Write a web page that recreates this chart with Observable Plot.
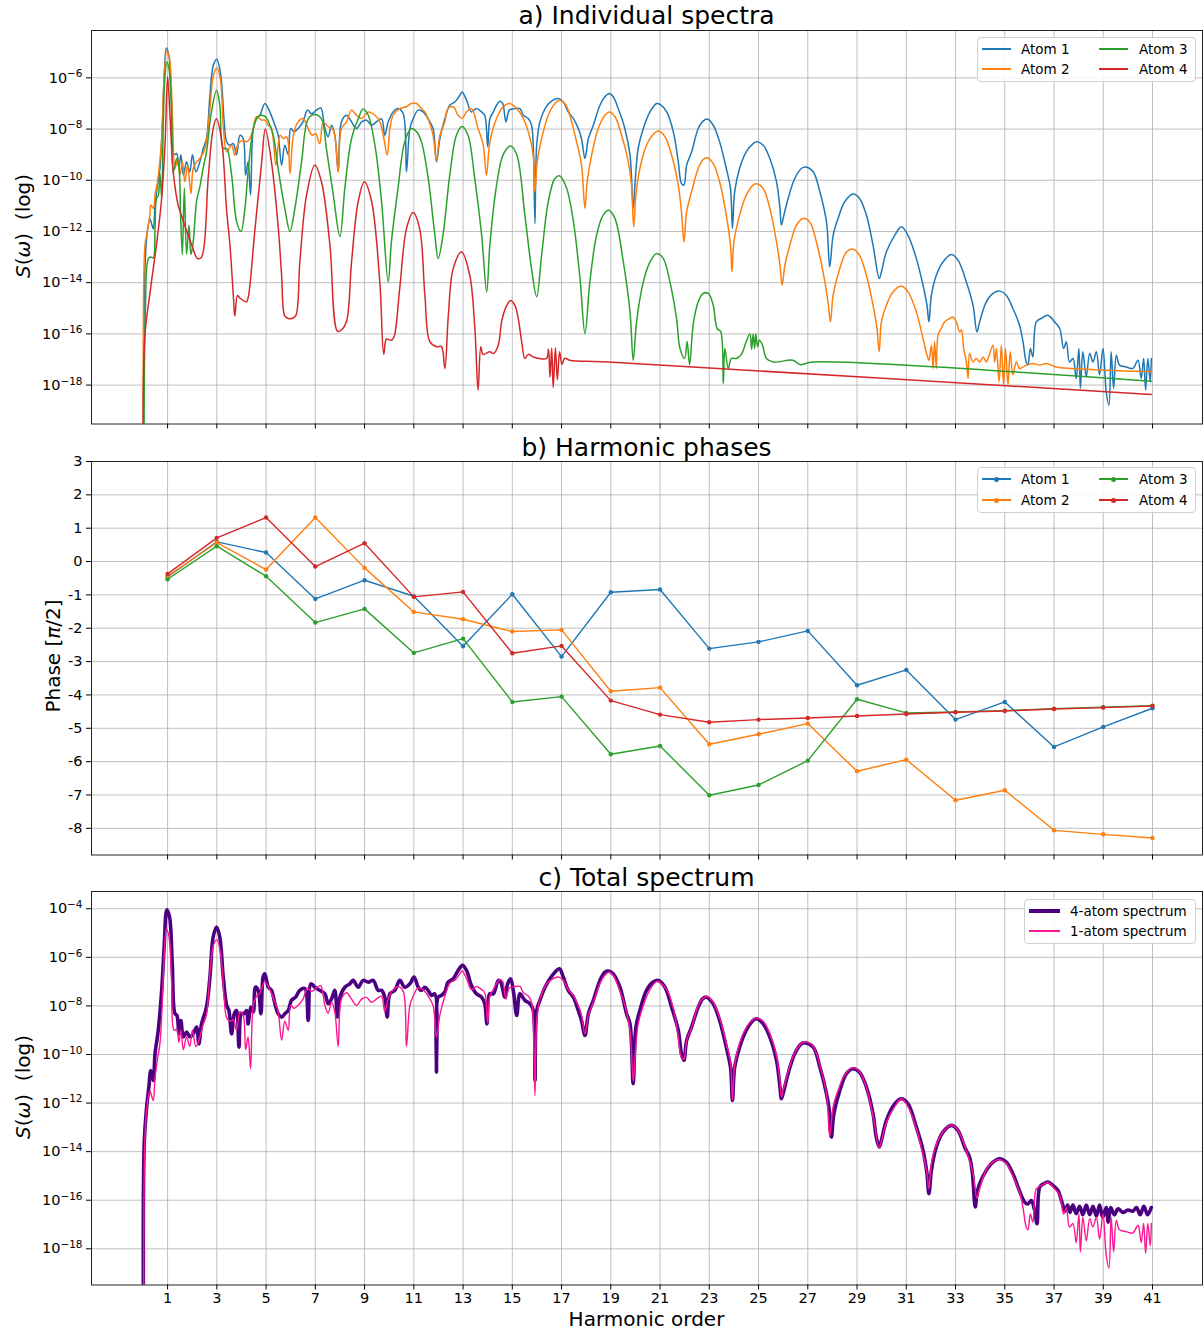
<!DOCTYPE html>
<html>
<head>
<meta charset="utf-8">
<script src="https://cdn.jsdelivr.net/npm/d3@7"></script>
<script src="https://cdn.jsdelivr.net/npm/@observablehq/plot@0.6"></script>
<style>
  body { margin: 0; background: #fff; }
  #root { position: relative; width: 1203px; height: 1331px; overflow: hidden; background: #fff; font-family: "DejaVu Sans", sans-serif; color: #000; }
  .title { position: absolute; left: 91px; width: 1111px; text-align: center; font-size: 25px; line-height: 29px; white-space: nowrap; }
  .ylab { position: absolute; font-size: 20px; white-space: nowrap; transform: translate(-50%, -50%) rotate(-90deg); }
  .xlab { position: absolute; left: 91px; width: 1111px; text-align: center; font-size: 20px; line-height: 24px; }
  .legend { position: absolute; border: 1px solid #d0d0d0; border-radius: 4px; background: rgba(255,255,255,0.85); box-sizing: border-box; }
  .legend .lt { position: absolute; font-size: 13.5px; line-height: 20px; height: 20px; white-space: nowrap; }
  .legend .sw { position: absolute; }
  .legend .dot { position: absolute; border-radius: 50%; }
</style>
</head>
<body>
<div id="root"></div>
<script>
// ---------------- DATA ----------------
// Spectra: pairs [harmonic order, log10 S(omega)]
const atom1Spectrum = [[0.04,-25],[0.08,-13.45],[0.19,-11.9],[0.28,-11.5],[0.35,-11.7],[0.42,-11.9],[0.49,-10.97],[0.59,-10.19],[0.69,-9.54],[0.78,-7.98],[0.86,-6.0],[0.95,-4.83],[1.05,-5.11],[1.16,-6.94],[1.26,-9.0],[1.37,-8.96],[1.46,-9.5],[1.54,-9.0],[1.64,-9.8],[1.77,-9.28],[1.9,-9.67],[2.01,-9.0],[2.15,-9.67],[2.31,-9.28],[2.45,-8.76],[2.58,-8.37],[2.72,-6.68],[2.86,-5.5],[3.0,-5.27],[3.16,-5.9],[3.3,-7.72],[3.4,-8.5],[3.53,-8.63],[3.67,-8.57],[3.8,-9.0],[3.94,-8.24],[4.07,-8.37],[4.17,-9.8],[4.27,-9.28],[4.37,-10.58],[4.48,-7.98],[4.61,-7.6],[4.75,-7.46],[4.95,-7.0],[5.15,-7.33],[5.36,-7.85],[5.49,-8.24],[5.63,-9.41],[5.76,-8.63],[5.9,-9.0],[6.0,-7.98],[6.14,-8.1],[6.3,-7.98],[6.5,-7.72],[6.68,-7.26],[6.85,-7.4],[7.05,-7.26],[7.22,-7.17],[7.39,-7.98],[7.52,-8.3],[7.66,-7.85],[7.79,-8.24],[7.93,-9.67],[8.06,-7.72],[8.27,-7.46],[8.47,-7.72],[8.67,-7.98],[8.88,-7.72],[9.08,-7.65],[9.28,-7.85],[9.48,-7.72],[9.69,-7.6],[9.82,-8.24],[9.96,-7.72],[10.16,-7.33],[10.36,-7.2],[10.57,-7.4],[10.7,-9.67],[10.84,-7.98],[10.97,-7.6],[11.18,-7.26],[11.38,-7.33],[11.58,-7.6],[11.78,-7.98],[11.92,-9.28],[12.06,-8.37],[12.26,-7.6],[12.46,-7.07],[12.67,-6.94],[12.87,-6.68],[12.96,-6.55],[13.14,-6.87],[13.34,-7.33],[13.54,-7.2],[13.75,-7.33],[13.88,-7.46],[14.0,-8.7],[14.09,-7.59],[14.23,-7.33],[14.36,-7.07],[14.5,-6.91],[14.61,-7.0],[14.74,-7.72],[14.88,-7.26],[15.11,-7.2],[15.31,-7.2],[15.45,-7.46],[15.65,-7.59],[15.78,-7.85],[15.85,-8.63],[15.92,-11.69],[15.99,-8.63],[16.12,-7.72],[16.33,-7.2],[16.53,-6.96],[16.86,-6.81],[17.07,-6.94],[17.27,-7.33],[17.48,-7.59],[17.68,-7.98],[17.81,-8.37],[17.95,-9.15],[18.09,-8.37],[18.29,-7.85],[18.56,-7.07],[18.76,-6.74],[18.94,-6.61],[19.1,-6.74],[19.3,-7.2],[19.57,-7.98],[19.78,-9.02],[19.91,-11.1],[19.98,-10.19],[20.11,-8.76],[20.32,-7.98],[20.59,-7.33],[20.86,-7.0],[21.0,-7.04],[21.27,-7.33],[21.54,-8.11],[21.74,-9.28],[21.87,-10.13],[21.97,-10.19],[22.08,-9.41],[22.28,-8.9],[22.55,-7.98],[22.75,-7.69],[22.91,-7.61],[23.16,-7.85],[23.42,-8.5],[23.69,-9.54],[23.86,-10.32],[23.94,-11.88],[24.03,-10.45],[24.23,-9.54],[24.5,-8.89],[24.78,-8.57],[24.92,-8.5],[25.19,-8.63],[25.46,-9.15],[25.73,-10.06],[25.87,-11.1],[25.93,-11.75],[26.03,-11.36],[26.2,-10.71],[26.47,-9.93],[26.74,-9.54],[26.92,-9.48],[27.22,-9.67],[27.49,-10.45],[27.76,-11.63],[27.89,-13.38],[28.03,-12.15],[28.23,-11.49],[28.5,-10.84],[28.84,-10.54],[29.1,-10.71],[29.38,-11.36],[29.65,-12.54],[29.9,-13.84],[29.99,-13.58],[30.19,-12.8],[30.53,-12.15],[30.8,-11.82],[31.07,-12.15],[31.41,-13.06],[31.68,-14.1],[31.84,-14.88],[31.92,-15.53],[32.02,-14.49],[32.22,-13.71],[32.49,-13.19],[32.83,-12.9],[33.1,-13.12],[33.44,-13.97],[33.71,-14.88],[33.87,-15.92],[33.98,-15.53],[34.25,-14.75],[34.52,-14.42],[34.79,-14.33],[35.06,-14.49],[35.33,-15.01],[35.6,-15.66],[35.74,-16.31],[35.87,-17.1],[35.94,-17.22],[36.04,-16.57],[36.14,-16.9],[36.28,-15.53],[36.48,-15.4],[36.75,-15.27],[37.02,-15.53],[37.23,-15.79],[37.39,-16.57],[37.5,-16.31],[37.63,-17.1],[37.77,-16.96],[37.9,-17.74],[38.01,-16.57],[38.07,-18.13],[38.17,-16.7],[38.31,-17.67],[38.45,-16.76],[38.58,-17.1],[38.72,-16.7],[38.85,-17.6],[38.99,-16.57],[39.12,-18.27],[39.23,-18.79],[39.32,-16.7],[39.42,-18.13],[39.53,-16.83],[39.66,-17.22],[39.93,-17.29],[40.2,-17.35],[40.41,-17.03],[40.54,-17.74],[40.64,-16.96],[40.72,-18.2],[40.81,-16.96],[40.91,-17.88],[40.95,-16.96]];

const atom2Spectrum = [[0.04,-25],[0.08,-12.54],[0.15,-12.15],[0.28,-11.36],[0.32,-10.97],[0.42,-11.1],[0.49,-10.58],[0.59,-10.06],[0.76,-8.37],[0.86,-6.0],[0.97,-4.96],[1.08,-5.25],[1.19,-7.33],[1.3,-9.54],[1.41,-9.15],[1.5,-9.8],[1.6,-9.28],[1.7,-10.06],[1.81,-9.41],[1.95,-10.52],[2.04,-9.54],[2.18,-9.28],[2.31,-9.15],[2.52,-8.76],[2.72,-7.2],[2.86,-5.9],[3.0,-5.61],[3.14,-6.03],[3.27,-7.98],[3.4,-8.89],[3.6,-8.63],[3.73,-9.02],[3.87,-8.57],[4.07,-8.44],[4.2,-8.5],[4.34,-8.37],[4.48,-7.98],[4.61,-7.52],[4.82,-7.65],[4.95,-7.65],[5.09,-7.85],[5.22,-7.98],[5.4,-9.41],[5.57,-8.24],[5.7,-8.37],[5.84,-8.3],[5.97,-9.74],[6.11,-8.24],[6.3,-7.72],[6.5,-7.59],[6.71,-7.98],[6.87,-8.24],[7.01,-8.18],[7.18,-8.57],[7.32,-7.72],[7.52,-7.91],[7.73,-8.04],[7.93,-9.67],[8.06,-7.98],[8.27,-7.72],[8.47,-7.26],[8.67,-7.46],[8.88,-7.59],[9.15,-7.33],[9.42,-7.46],[9.62,-7.72],[9.76,-8.24],[9.92,-9.02],[10.03,-7.98],[10.16,-7.46],[10.43,-7.2],[10.7,-7.13],[10.9,-7.0],[11.11,-7.0],[11.31,-7.2],[11.45,-7.33],[11.58,-7.59],[11.78,-8.24],[11.92,-9.22],[12.06,-8.24],[12.26,-7.72],[12.39,-7.2],[12.6,-7.13],[12.8,-7.46],[12.96,-7.59],[13.14,-7.33],[13.34,-7.2],[13.61,-7.98],[13.81,-8.57],[13.95,-9.8],[14.09,-8.5],[14.36,-7.59],[14.63,-7.13],[14.88,-7.0],[15.18,-7.2],[15.45,-7.59],[15.65,-8.11],[15.85,-9.02],[15.92,-10.45],[16.01,-9.28],[16.19,-8.37],[16.46,-7.46],[16.73,-7.0],[16.93,-6.87],[17.18,-7.07],[17.41,-7.72],[17.61,-8.5],[17.81,-9.41],[17.95,-11.1],[18.04,-10.06],[18.22,-9.02],[18.49,-7.98],[18.76,-7.46],[18.94,-7.33],[19.17,-7.52],[19.44,-8.24],[19.71,-9.28],[19.84,-10.19],[19.93,-11.82],[20.02,-10.58],[20.18,-9.54],[20.45,-8.63],[20.72,-8.21],[20.93,-8.08],[21.2,-8.3],[21.47,-9.02],[21.74,-10.19],[21.87,-11.23],[21.97,-12.41],[22.08,-11.23],[22.28,-10.45],[22.55,-9.54],[22.75,-9.19],[22.91,-9.12],[23.16,-9.35],[23.42,-10.06],[23.69,-11.36],[23.86,-12.54],[23.92,-13.58],[24.0,-12.41],[24.23,-11.36],[24.5,-10.58],[24.78,-10.19],[24.92,-10.14],[25.19,-10.32],[25.46,-11.1],[25.73,-12.41],[25.87,-13.32],[25.96,-14.1],[26.07,-13.32],[26.27,-12.54],[26.54,-11.75],[26.81,-11.49],[27.08,-11.63],[27.35,-12.41],[27.62,-13.58],[27.82,-14.75],[27.92,-15.53],[28.03,-14.49],[28.3,-13.45],[28.57,-12.8],[28.84,-12.69],[29.1,-12.93],[29.38,-13.71],[29.65,-14.88],[29.81,-15.79],[29.9,-16.7],[29.99,-15.53],[30.19,-14.88],[30.46,-14.36],[30.8,-14.13],[31.07,-14.36],[31.41,-15.14],[31.68,-16.18],[31.84,-16.83],[31.92,-17.03],[32.02,-16.44],[32.09,-17.35],[32.15,-16.31],[32.22,-17.35],[32.29,-16.05],[32.42,-15.79],[32.56,-15.53],[32.76,-15.4],[32.9,-15.34],[33.03,-15.53],[33.17,-15.92],[33.24,-15.85],[33.33,-16.57],[33.44,-17.1],[33.51,-17.74],[33.57,-16.77],[33.71,-17.1],[33.84,-16.96],[33.98,-17.1],[34.12,-16.9],[34.25,-17.1],[34.39,-16.77],[34.52,-16.44],[34.59,-17.1],[34.66,-16.57],[34.77,-17.87],[34.86,-16.44],[34.95,-18.0],[35.03,-16.57],[35.13,-18.0],[35.22,-16.7],[35.33,-17.6],[35.47,-17.1],[35.6,-17.35],[35.87,-17.22],[36.14,-17.16],[36.42,-17.22],[36.69,-17.16],[37.09,-17.29],[37.77,-17.35],[39.12,-17.42],[40.95,-17.48]];

const atom3Spectrum = [[0.04,-25],[0.1,-15],[0.22,-13.06],[0.32,-13.0],[0.42,-13.03],[0.49,-11.9],[0.55,-10.7],[0.62,-10.6],[0.69,-9.74],[0.76,-10.7],[0.82,-8.0],[0.89,-6.0],[0.97,-5.38],[1.05,-5.6],[1.16,-7.3],[1.23,-9.67],[1.37,-9.15],[1.46,-9.5],[1.53,-11.4],[1.6,-12.9],[1.68,-10.3],[1.77,-12.9],[1.87,-11.75],[1.95,-12.9],[2.04,-12.4],[2.18,-10.8],[2.31,-10.26],[2.45,-9.5],[2.58,-8.9],[2.78,-7.33],[2.99,-6.48],[3.12,-7.07],[3.26,-8.76],[3.4,-8.76],[3.6,-9.8],[3.8,-11.6],[3.98,-12.0],[4.14,-11.1],[4.27,-9.67],[4.48,-8.0],[4.68,-7.5],[4.95,-7.5],[5.09,-7.7],[5.29,-8.24],[5.49,-9.54],[5.76,-11.1],[5.97,-12.0],[6.17,-11.1],[6.44,-9.3],[6.71,-7.6],[6.98,-7.43],[7.25,-7.6],[7.45,-8.76],[7.73,-10.58],[8.0,-12.2],[8.2,-10.3],[8.47,-8.37],[8.74,-7.6],[8.94,-7.22],[9.15,-7.46],[9.42,-8.63],[9.69,-10.84],[9.96,-13.97],[10.09,-12.4],[10.36,-10.3],[10.63,-8.5],[10.9,-7.98],[11.11,-8.1],[11.31,-8.5],[11.58,-9.9],[11.85,-12.1],[11.99,-13.06],[12.19,-12.1],[12.46,-9.8],[12.73,-8.24],[12.96,-7.9],[13.2,-8.24],[13.47,-9.9],[13.75,-12.1],[13.96,-14.36],[14.09,-12.5],[14.36,-10.2],[14.63,-9.0],[14.93,-8.66],[15.18,-9.0],[15.51,-11.36],[15.78,-13.45],[15.99,-14.55],[16.19,-12.93],[16.46,-10.84],[16.73,-9.93],[16.93,-9.83],[17.21,-10.32],[17.48,-11.6],[17.75,-13.84],[17.95,-15.99],[18.15,-13.97],[18.42,-12.15],[18.69,-11.36],[18.92,-11.17],[19.17,-11.5],[19.51,-13.2],[19.78,-15.14],[19.91,-17.03],[20.05,-15.5],[20.32,-13.97],[20.59,-13.2],[20.86,-12.86],[21.13,-13.05],[21.4,-13.97],[21.67,-15.4],[21.81,-16.57],[22.0,-16.96],[22.1,-16.3],[22.2,-17.2],[22.35,-15.6],[22.55,-14.75],[22.75,-14.42],[22.96,-14.42],[23.16,-14.88],[23.32,-15.8],[23.46,-15.9],[23.57,-17.94],[23.63,-16.57],[23.77,-17.35],[23.9,-16.96],[24.1,-16.96],[24.3,-16.8],[24.5,-16.3],[24.65,-15.99],[24.72,-16.6],[24.78,-16.0],[24.84,-16.57],[24.89,-15.99],[24.96,-16.5],[25.03,-16.25],[25.16,-16.44],[25.32,-16.96],[25.6,-17.1],[26.4,-17.03],[26.68,-17.2],[27.2,-17.1],[40.95,-17.85]];

const atom4Spectrum = [[0.04,-25],[0.07,-16.2],[0.3,-14.3],[0.55,-12.5],[0.75,-10.8],[0.9,-8.5],[1.0,-5.96],[1.1,-7.5],[1.23,-9.67],[1.43,-10.97],[1.64,-11.6],[1.97,-12.5],[2.22,-13.06],[2.38,-13.0],[2.65,-9.9],[2.85,-7.98],[2.98,-7.6],[3.19,-8.4],[3.4,-11.2],[3.53,-12.5],[3.67,-14.5],[3.73,-15.3],[3.84,-14.5],[3.94,-14.6],[4.2,-14.75],[4.27,-14.6],[4.55,-11.9],[4.82,-9.3],[4.97,-8.0],[5.22,-9.3],[5.5,-11.9],[5.63,-13.7],[5.76,-15.3],[5.9,-15.4],[6.03,-15.4],[6.2,-15.3],[6.37,-13.2],[6.64,-10.6],[6.98,-9.4],[7.25,-10.06],[7.59,-12.5],[7.9,-15.9],[8.06,-15.85],[8.27,-15.5],[8.47,-13.2],[8.74,-10.84],[8.99,-10.06],[9.28,-10.8],[9.62,-14.0],[9.78,-16.8],[9.89,-16.2],[10.09,-16.25],[10.2,-16.1],[10.43,-14.2],[10.7,-11.9],[10.97,-11.26],[11.24,-11.9],[11.45,-14.5],[11.65,-16.3],[11.92,-16.5],[12.12,-16.5],[12.26,-17.35],[12.4,-15.3],[12.6,-13.45],[12.94,-12.8],[13.27,-13.7],[13.48,-15.8],[13.61,-18.2],[13.72,-16.5],[13.81,-16.8],[14.09,-16.7],[14.23,-16.77],[14.43,-16.44],[14.57,-15.5],[14.77,-14.9],[14.93,-14.7],[15.11,-14.9],[15.24,-15.4],[15.38,-16.3],[15.51,-16.96],[15.65,-16.8],[15.85,-16.9],[16.39,-16.96],[16.47,-16.6],[16.53,-17.7],[16.6,-16.55],[16.66,-18.1],[16.75,-16.55],[16.83,-17.8],[16.92,-16.7],[17.02,-17.2],[17.13,-16.95],[17.33,-17.03],[18.9,-17.1],[40.95,-18.37]];

const fourAtomSpectrum = [[0.04,-25],[0.05,-13.68],[0.15,-12.17],[0.24,-11.34],[0.32,-10.66],[0.42,-11.07],[0.49,-9.97],[0.62,-9.01],[0.76,-7.36],[0.86,-5.58],[0.97,-4.04],[1.08,-4.34],[1.19,-6.26],[1.3,-8.32],[1.38,-8.39],[1.46,-9.15],[1.54,-8.6],[1.64,-9.28],[1.77,-9.08],[1.91,-9.28],[2.04,-9.15],[2.18,-8.87],[2.27,-9.56],[2.38,-8.74],[2.58,-8.05],[2.72,-6.81],[2.85,-5.17],[2.99,-4.75],[3.12,-5.17],[3.26,-6.81],[3.4,-7.98],[3.49,-8.19],[3.6,-9.15],[3.71,-8.32],[3.8,-8.19],[3.9,-9.7],[4.0,-8.32],[4.11,-8.32],[4.21,-8.19],[4.27,-8.74],[4.38,-8.05],[4.48,-8.25],[4.57,-7.23],[4.68,-7.36],[4.79,-8.32],[4.88,-6.81],[4.95,-6.68],[5.09,-7.23],[5.22,-7.36],[5.36,-7.91],[5.49,-8.32],[5.63,-8.46],[5.76,-8.32],[5.9,-8.19],[6.03,-7.77],[6.2,-7.64],[6.37,-7.36],[6.58,-7.29],[6.71,-8.6],[6.82,-7.09],[6.98,-7.23],[7.18,-7.36],[7.39,-7.5],[7.52,-7.91],[7.66,-7.71],[7.79,-7.36],[7.9,-8.46],[8.0,-7.64],[8.2,-7.23],[8.4,-7.09],[8.54,-6.95],[8.74,-7.23],[8.94,-6.95],[9.15,-7.02],[9.35,-6.95],[9.55,-7.36],[9.69,-7.36],[9.82,-7.64],[9.92,-8.46],[10.03,-7.5],[10.23,-7.36],[10.43,-6.95],[10.63,-7.23],[10.84,-7.09],[11.01,-6.81],[11.18,-7.23],[11.31,-7.36],[11.45,-7.23],[11.58,-7.36],[11.72,-7.57],[11.85,-7.5],[11.92,-10.73],[11.99,-7.64],[12.12,-7.57],[12.26,-7.43],[12.39,-7.02],[12.6,-6.88],[12.8,-6.54],[12.98,-6.33],[13.14,-6.54],[13.34,-7.16],[13.54,-7.5],[13.75,-7.64],[13.88,-7.91],[13.97,-8.74],[14.08,-7.5],[14.23,-7.5],[14.43,-6.95],[14.53,-7.02],[14.7,-7.64],[14.81,-7.09],[14.93,-6.88],[15.04,-7.36],[15.18,-8.39],[15.31,-7.5],[15.51,-7.77],[15.72,-7.91],[15.85,-8.19],[15.92,-11.07],[15.99,-8.19],[16.12,-7.77],[16.33,-7.23],[16.53,-6.88],[16.73,-6.61],[16.91,-6.47],[17.07,-6.81],[17.27,-7.36],[17.48,-7.64],[17.68,-8.19],[17.81,-8.6],[17.95,-9.22],[18.09,-8.32],[18.29,-7.77],[18.56,-6.95],[18.76,-6.61],[18.94,-6.57],[19.1,-6.68],[19.37,-7.23],[19.64,-8.32],[19.78,-8.74],[19.91,-11.2],[20.02,-8.87],[20.18,-8.19],[20.45,-7.36],[20.72,-7.02],[20.93,-6.95],[21.2,-7.23],[21.47,-8.05],[21.74,-9.01],[21.87,-9.97],[21.97,-10.24],[22.08,-9.42],[22.28,-8.87],[22.55,-8.05],[22.73,-7.71],[22.89,-7.64],[23.16,-7.91],[23.42,-8.6],[23.69,-9.7],[23.86,-10.52],[23.94,-11.89],[24.03,-10.52],[24.23,-9.7],[24.5,-9.01],[24.78,-8.6],[24.92,-8.53],[25.19,-8.74],[25.46,-9.28],[25.73,-10.24],[25.87,-11.34],[25.93,-11.82],[26.03,-11.48],[26.2,-10.79],[26.47,-9.97],[26.74,-9.56],[26.88,-9.52],[27.22,-9.7],[27.49,-10.52],[27.76,-11.62],[27.89,-12.44],[27.96,-13.4],[28.06,-12.44],[28.3,-11.48],[28.57,-10.79],[28.84,-10.59],[29.1,-10.73],[29.38,-11.34],[29.65,-12.44],[29.78,-13.4],[29.9,-13.81],[29.99,-13.54],[30.19,-12.72],[30.53,-12.03],[30.8,-11.82],[31.07,-12.03],[31.41,-12.99],[31.68,-13.95],[31.84,-14.91],[31.92,-15.73],[32.02,-14.77],[32.22,-13.81],[32.49,-13.2],[32.83,-12.92],[33.1,-13.13],[33.37,-13.81],[33.57,-14.23],[33.68,-14.84],[33.8,-16.28],[33.87,-15.73],[33.98,-15.32],[34.25,-14.77],[34.52,-14.43],[34.79,-14.29],[35.06,-14.43],[35.33,-14.91],[35.54,-15.46],[35.67,-15.8],[35.81,-16.08],[35.94,-16.15],[36.08,-16.01],[36.21,-16.42],[36.31,-16.97],[36.42,-15.46],[36.58,-15.32],[36.75,-15.25],[36.95,-15.39],[37.16,-15.6],[37.34,-16.15],[37.45,-16.45],[37.55,-16.2],[37.65,-16.5],[37.77,-16.2],[37.9,-16.55],[38.04,-16.25],[38.17,-16.6],[38.31,-16.2],[38.45,-16.6],[38.58,-16.25],[38.72,-16.65],[38.85,-16.2],[38.98,-16.7],[39.12,-16.3],[39.2,-16.9],[39.3,-16.3],[39.45,-16.6],[39.6,-16.35],[39.8,-16.5],[40.0,-16.4],[40.2,-16.45],[40.35,-16.3],[40.5,-16.6],[40.65,-16.25],[40.8,-16.6],[40.95,-16.3]];

// The 1-atom spectrum in panel c is the same curve as Atom 1 in panel a
const oneAtomSpectrum = atom1Spectrum;

// Harmonic phases in units of pi/2
const harmonics = [1,3,5,7,9,11,13,15,17,19,21,23,25,27,29,31,33,35,37,39,41];
const phaseAtom1 = [-0.46,0.59,0.27,-1.12,-0.56,-1.04,-2.54,-0.98,-2.85,-0.92,-0.84,-2.61,-2.41,-2.08,-3.71,-3.25,-4.74,-4.21,-5.56,-4.96,-4.4];
const phaseAtom2 = [-0.44,0.57,-0.24,1.32,-0.19,-1.51,-1.73,-2.1,-2.05,-3.89,-3.78,-5.48,-5.18,-4.86,-6.29,-5.94,-7.16,-6.86,-8.06,-8.18,-8.29];
const phaseAtom3 = [-0.53,0.46,-0.44,-1.83,-1.42,-2.74,-2.31,-4.21,-4.05,-5.78,-5.53,-7.01,-6.7,-5.97,-4.13,-4.54,-4.51,-4.47,-4.41,-4.37,-4.32];
const phaseAtom4 = [-0.37,0.71,1.32,-0.15,0.55,-1.06,-0.91,-2.75,-2.53,-4.17,-4.59,-4.82,-4.74,-4.69,-4.63,-4.57,-4.52,-4.48,-4.42,-4.38,-4.33];

const atomNames = ["Atom 1", "Atom 2", "Atom 3", "Atom 4"];
const atomColors = ["#1f77b4", "#ff7f0e", "#2ca02c", "#d62728"];
const totalNames = ["4-atom spectrum", "1-atom spectrum"];
const totalColors = ["#4b0082", "#ff1493"];

const xTicks = harmonics;
const logTicksA = [-6,-8,-10,-12,-14,-16,-18];
const logTicksC = [-4,-6,-8,-10,-12,-14,-16,-18];
const phaseTicks = [3,2,1,0,-1,-2,-3,-4,-5,-6,-7,-8];

// ---------------- HELPERS ----------------
const root = document.getElementById("root");
const xDomain = [-2.09, 43.03];
const gridStyle = {stroke: "#b0b0b0", strokeOpacity: 1, strokeWidth: 0.8};
const baseStyle = {fontFamily: "DejaVu Sans", fontSize: "14.5px", color: "#000", background: "transparent", overflow: "visible"};

const rows = (pairs) => pairs.map(([h, L]) => ({h, S: Math.pow(10, L)}));
const logFmt = (d) => "10^" + Math.round(Math.log10(d));

function supify(svg) {
  d3.select(svg).selectAll("text").each(function() {
    const t = this.textContent;
    const m = /^10\^(-?\d+)$/.exec(t);
    if (!m) return;
    const s = d3.select(this);
    s.text("10");
    s.append("tspan").attr("dy", "-0.5em").attr("font-size", "0.72em").text(m[1].replace("-", "\u2212"));
  });
}

function place(el, top) {
  el.style.position = "absolute";
  el.style.left = "0px";
  el.style.top = top + "px";
  root.appendChild(el);
}

function addDiv(cls, html, styles) {
  const d = document.createElement("div");
  d.className = cls;
  d.innerHTML = html;
  Object.assign(d.style, styles);
  root.appendChild(d);
  return d;
}

function addLegend(box, items) {
  const b = addDiv("legend", "", {left: box.left + "px", top: box.top + "px", width: box.width + "px", height: box.height + "px"});
  for (const it of items) {
    const sw = document.createElement("div");
    sw.className = "sw";
    Object.assign(sw.style, {left: it.x + "px", top: (it.y - it.lw / 2) + "px", width: it.len + "px", height: it.lw + "px", background: it.color});
    b.appendChild(sw);
    if (it.marker) {
      const dt = document.createElement("div");
      dt.className = "dot";
      Object.assign(dt.style, {left: (it.x + it.len / 2 - 2.5) + "px", top: (it.y - 2.5) + "px", width: "5px", height: "5px", background: it.color});
      b.appendChild(dt);
    }
    const t = document.createElement("div");
    t.className = "lt";
    t.textContent = it.text;
    Object.assign(t.style, {left: it.tx + "px", top: (it.y - 10) + "px"});
    b.appendChild(t);
  }
}

// ---------------- PANEL A ----------------
const spectra = [atom1Spectrum, atom2Spectrum, atom3Spectrum, atom4Spectrum];
const panelA = Plot.plot({
  width: 1203, height: 413.5,
  marginLeft: 91, marginRight: 1, marginTop: 10, marginBottom: 10,
  style: baseStyle,
  x: {domain: xDomain},
  y: {type: "log", domain: [Math.pow(10, -19.52), Math.pow(10, -4.15)]},
  marks: [
    Plot.gridX(xTicks, gridStyle),
    Plot.gridY(logTicksA.map(k => Math.pow(10, k)), gridStyle),
    ...spectra.map((s, i) => Plot.line(rows(s), {x: "h", y: "S", stroke: atomColors[i], strokeWidth: 1.5, curve: "catmull-rom", clip: true})),
    Plot.frame({stroke: "#222", strokeWidth: 1}),
    Plot.axisX(xTicks, {tickSize: 5, tickFormat: () => "", label: null}),
    Plot.axisY(logTicksA.map(k => Math.pow(10, k)), {tickSize: 5, tickPadding: 4, tickFormat: logFmt, label: null})
  ]
});
supify(panelA);
place(panelA, 20);

// ---------------- PANEL B ----------------
const phases = [phaseAtom1, phaseAtom2, phaseAtom3, phaseAtom4];
const phaseRows = phases.map(p => harmonics.map((h, j) => ({h, p: p[j]})));
const panelB = Plot.plot({
  width: 1203, height: 413.5,
  marginLeft: 91, marginRight: 1, marginTop: 10, marginBottom: 10,
  style: baseStyle,
  x: {domain: xDomain},
  y: {domain: [-8.8, 3]},
  marks: [
    Plot.gridX(xTicks, gridStyle),
    Plot.gridY(phaseTicks, gridStyle),
    ...phaseRows.flatMap((r, i) => [
      Plot.line(r, {x: "h", y: "p", stroke: atomColors[i], strokeWidth: 1.4}),
      Plot.dot(r, {x: "h", y: "p", fill: atomColors[i], r: 2.2})
    ]),
    Plot.frame({stroke: "#222", strokeWidth: 1}),
    Plot.axisX(xTicks, {tickSize: 5, tickFormat: () => "", label: null}),
    Plot.axisY(phaseTicks, {tickSize: 5, tickPadding: 4, tickFormat: d => String(d), label: null})
  ]
});
place(panelB, 450.5);

// ---------------- PANEL C ----------------
const panelC = Plot.plot({
  width: 1203, height: 433.5,
  marginLeft: 91, marginRight: 1, marginTop: 10, marginBottom: 30,
  style: baseStyle,
  x: {domain: xDomain},
  y: {type: "log", domain: [Math.pow(10, -19.49), Math.pow(10, -3.29)]},
  marks: [
    Plot.gridX(xTicks, gridStyle),
    Plot.gridY(logTicksC.map(k => Math.pow(10, k)), gridStyle),
    Plot.line(rows(fourAtomSpectrum), {x: "h", y: "S", stroke: totalColors[0], strokeWidth: 3.6, curve: "catmull-rom", clip: true}),
    Plot.line(rows(oneAtomSpectrum), {x: "h", y: "S", stroke: totalColors[1], strokeWidth: 1.4, curve: "catmull-rom", clip: true}),
    Plot.frame({stroke: "#222", strokeWidth: 1}),
    Plot.axisX(xTicks, {tickSize: 5, tickPadding: 3, tickFormat: d => String(d), label: null}),
    Plot.axisY(logTicksC.map(k => Math.pow(10, k)), {tickSize: 5, tickPadding: 4, tickFormat: logFmt, label: null})
  ]
});
supify(panelC);
place(panelC, 881);

// ---------------- TEXT ----------------
addDiv("title", "a) Individual spectra", {top: "0.5px"});
addDiv("title", "b) Harmonic phases", {top: "432.5px"});
addDiv("title", "c) Total spectrum", {top: "862.5px"});
addDiv("ylab", "<i>S</i>(<i>ω</i>)&nbsp;&nbsp;(log)", {left: "23px", top: "226px"});
addDiv("ylab", "Phase [<i>π</i>/2]", {left: "53px", top: "656px"});
addDiv("ylab", "<i>S</i>(<i>ω</i>)&nbsp;&nbsp;(log)", {left: "23px", top: "1087px"});
addDiv("xlab", "Harmonic order", {top: "1307px"});

// ---------------- LEGENDS ----------------
const legItems = (marker) => atomNames.map((n, i) => ({
  text: n, color: atomColors[i], lw: 1.5, len: 29, marker,
  x: i < 2 ? 4 : 121, tx: i < 2 ? 43 : 161, y: i % 2 === 0 ? 11 : 31
}));
addLegend({left: 977, top: 37, width: 219, height: 45}, legItems(false));
addLegend({left: 977, top: 467, width: 219, height: 46}, legItems(true).map(d => ({...d, y: d.y === 11 ? 11 : 32})));
addLegend({left: 1024, top: 899, width: 172, height: 45}, [
  {text: totalNames[0], color: totalColors[0], lw: 3.6, len: 31, x: 4, tx: 45, y: 11},
  {text: totalNames[1], color: totalColors[1], lw: 1.4, len: 31, x: 4, tx: 45, y: 31}
]);
</script>
</body>
</html>
